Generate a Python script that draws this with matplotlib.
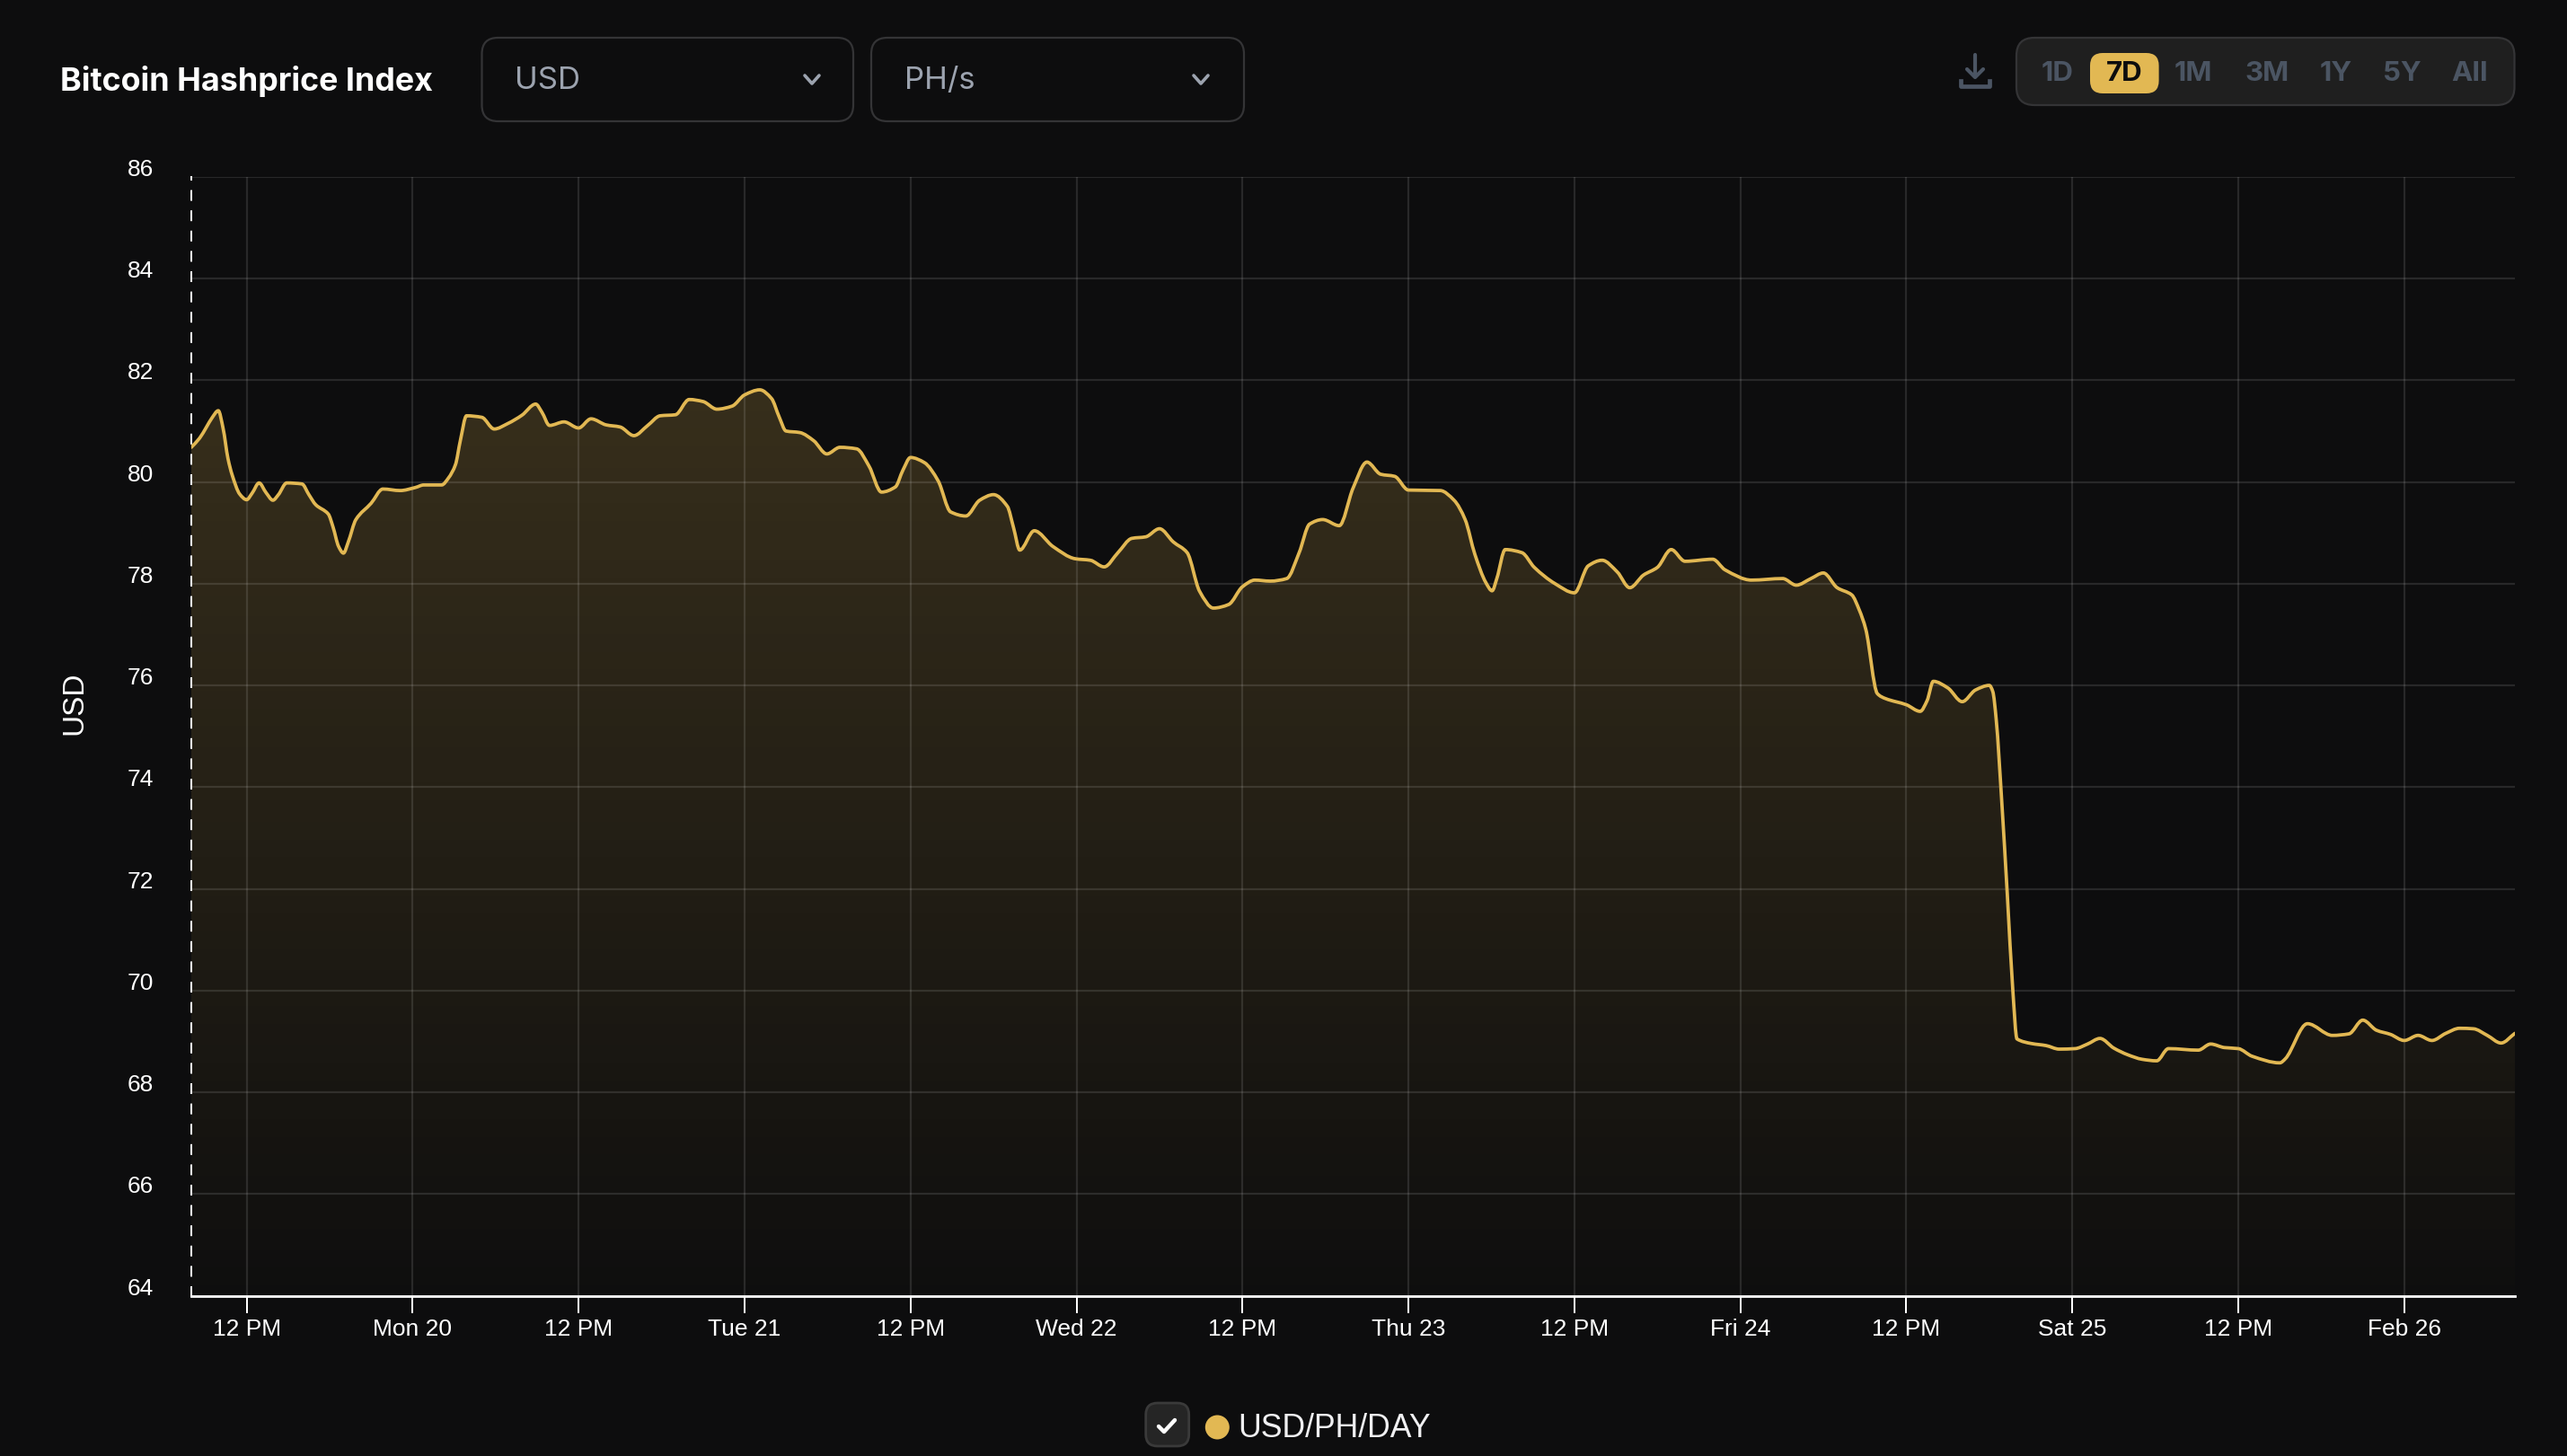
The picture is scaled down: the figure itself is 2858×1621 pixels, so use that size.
import numpy as np
import matplotlib
matplotlib.use('Agg')
import matplotlib.pyplot as plt
from matplotlib.patches import FancyBboxPatch, Circle, PathPatch
from matplotlib.path import Path
from matplotlib.transforms import ScaledTranslation

# hours since Feb 19 08:00
hours = [0, 0.6, 1.1, 1.5, 1.95, 2.3, 2.65, 2.95, 3.5, 4, 4.4, 4.9, 5.4, 5.9, 6.3, 6.9, 8, 8.5, 9, 9.9, 10.25,
         10.65, 11, 11.35, 11.9, 13, 13.85, 15.1, 16.2, 16.8, 18.1, 18.6, 19.1, 19.45, 19.9, 21, 21.9, 22.9, 23.9,
         24.9, 25.35, 25.9, 26.95, 28, 28.9, 30, 31, 32, 33, 33.9, 35, 36, 37, 38, 39.1, 40, 41.1, 41.95, 42.5,
         43, 44, 45, 45.95, 46.9, 48.1, 49, 49.9, 50.9, 51.45, 52, 53, 54, 54.9, 56, 57, 58, 59, 59.45, 59.9,
         60.95, 62.3, 63.9, 65, 66, 67, 68, 69, 70, 71, 72, 72.9, 73.9, 75, 76, 76.9, 78, 79.2, 80.1, 80.85,
         81.8, 83, 84, 85, 86, 87, 88, 90.3, 91.3, 92.1, 92.8, 93.6, 94.05, 94.4, 95, 96.2, 97.1, 98.6, 100,
         101, 102, 103.1, 104, 105, 106, 107, 108, 110, 110.9, 112.8, 115.06, 116.04, 117.1, 118, 119, 120.05,
         120.6, 121.07, 121.9, 122.5, 124, 125, 125.5, 125.95, 127, 128.04, 129, 130, 130.25, 130.5, 130.9,
         131.3, 131.7, 132, 133.05, 134.1, 135.05, 136.2, 137.1, 138, 139, 140, 141.05, 142.1, 142.95, 145.1,
         146, 147, 148, 149, 151, 151.4, 153, 154.8, 156, 157, 158, 159, 160, 161, 162, 163, 164, 165, 166,
         167, 168]
usd_ph_day = [80.68, 80.86, 81.08, 81.26, 81.40, 81.05, 80.46, 80.14, 79.76, 79.65, 79.78, 79.98, 79.79, 79.64,
              79.75, 79.98, 79.96, 79.75, 79.55, 79.37, 79.11, 78.73, 78.60, 78.82, 79.26, 79.58, 79.86, 79.83,
              79.89, 79.94, 79.94, 80.08, 80.34, 80.81, 81.30, 81.27, 81.04, 81.15, 81.31, 81.53, 81.37, 81.11,
              81.18, 81.06, 81.24, 81.12, 81.08, 80.91, 81.11, 81.30, 81.32, 81.62, 81.58, 81.43, 81.49, 81.71,
              81.81, 81.64, 81.28, 81.00, 80.97, 80.81, 80.55, 80.68, 80.65, 80.31, 79.80, 79.90, 80.23, 80.48,
              80.38, 80.02, 79.41, 79.33, 79.64, 79.75, 79.52, 79.10, 78.66, 79.04, 78.73, 78.49, 78.46, 78.33,
              78.61, 78.89, 78.92, 79.08, 78.82, 78.61, 77.85, 77.52, 77.59, 77.94, 78.07, 78.05, 78.10, 78.61,
              79.17, 79.26, 79.14, 79.88, 80.39, 80.15, 80.11, 79.84, 79.83, 79.64, 79.26, 78.58, 78.02, 77.86,
              78.11, 78.67, 78.61, 78.32, 78.00, 77.82, 78.35, 78.46, 78.23, 77.92, 78.17, 78.32, 78.67, 78.44,
              78.48, 78.27, 78.07, 78.10, 77.97, 78.10, 78.21, 77.92, 77.78, 77.48, 77.10, 75.84, 75.74, 75.62,
              75.49, 75.70, 76.08, 75.95, 75.68, 75.91, 76.00, 75.88, 75.32, 73.71, 71.89, 70.00, 69.05, 68.96,
              68.92, 68.85, 68.86, 68.95, 69.06, 68.87, 68.74, 68.65, 68.62, 68.86, 68.83, 68.95, 68.88, 68.86,
              68.71, 68.58, 68.66, 69.35, 69.12, 69.15, 69.42, 69.22, 69.14, 69.02, 69.12, 69.02, 69.16, 69.26,
              69.25, 69.12, 68.97, 69.16]

y_ticks = [64, 66, 68, 70, 72, 74, 76, 78, 80, 82, 84, 86]
x_ticks = [4, 16, 28, 40, 52, 64, 76, 88, 100, 112, 124, 136, 148, 160]
x_labels = ['12 PM', 'Mon 20', '12 PM', 'Tue 21', '12 PM', 'Wed 22', '12 PM', 'Thu 23',
            '12 PM', 'Fri 24', '12 PM', 'Sat 25', '12 PM', 'Feb 26']
range_buttons = ['1D', '7D', '1M', '3M', '1Y', '5Y', 'All']
range_centers = [2291, 2365.4, 2442, 2524.4, 2601, 2674, 2750]

BG = '#0d0d0e'
GOLD = '#e2b853'
GREY = '#4b5563'
W, H = 2858, 1621


def smooth_path(xs, ys):
    # the chart draws a rounded line, so join the read points with monotone bezier pieces
    xs = np.asarray(xs, float)
    ys = np.asarray(ys, float)
    dx = np.diff(xs)
    slope = np.diff(ys) / dx
    tan = np.zeros(len(xs))
    tan[0], tan[-1] = slope[0], slope[-1]
    for i in range(1, len(xs) - 1):
        if slope[i - 1] * slope[i] > 0:
            tan[i] = 2 * slope[i - 1] * slope[i] / (slope[i - 1] + slope[i])
    verts = [(xs[0], ys[0])]
    codes = [Path.MOVETO]
    for i in range(len(dx)):
        verts.append((xs[i] + dx[i] / 3, ys[i] + tan[i] * dx[i] / 3))
        verts.append((xs[i + 1] - dx[i] / 3, ys[i + 1] - tan[i + 1] * dx[i] / 3))
        verts.append((xs[i + 1], ys[i + 1]))
        codes += [Path.CURVE4] * 3
    return verts, codes


plt.rcParams['font.family'] = ['Liberation Sans', 'DejaVu Sans']
fig = plt.figure(figsize=(W / 100, H / 100), dpi=100, facecolor=BG)
ax = fig.add_axes([213 / W, (H - 1442.7) / H, (2800 - 213) / W, (1442.7 - 196.7) / H], facecolor=BG)

verts, codes = smooth_path(hours, usd_ph_day)

# gradient area under the line
rgba = np.zeros((256, 1, 4))
rgba[..., :3] = matplotlib.colors.to_rgb(GOLD)
rgba[:, 0, 3] = np.linspace(0.2, 0.01, 256)
im = ax.imshow(rgba, extent=[0, 168, 64, 81.8], origin='upper', aspect='auto', zorder=1)
area = Path(verts + [(168, 64), (0, 64), (0, usd_ph_day[0])], codes + [Path.LINETO, Path.LINETO, Path.CLOSEPOLY])
im.set_clip_path(area, transform=ax.transData)

ax.add_patch(PathPatch(Path(verts, codes), fc='none', ec=GOLD, lw=2.7, joinstyle='round', capstyle='round', zorder=3))

ax.set_xlim(0, 168)
ax.set_ylim(64, 86)
ax.set_xticks(x_ticks)
ax.set_xticklabels(x_labels, fontsize=19, color='white')
ax.set_yticks(y_ticks)
ax.set_yticklabels([str(t) for t in y_ticks], fontsize=19, color='white', va='center')
ax.tick_params(axis='x', length=13.5, width=1.44, color='white', pad=5)
ax.tick_params(axis='y', length=0, pad=30)
ax.grid(True, color='white', alpha=0.115, lw=1.6)

# y labels sit a bit above their grid lines
for lab in ax.get_yticklabels():
    lab.set_transform(lab.get_transform() + ScaledTranslation(0, 0.08, fig.dpi_scale_trans))

ax.set_ylabel('USD', fontsize=24, color='white')
ax.yaxis.set_label_coords((98 - 213) / (2800 - 213), 0.53)

ax.spines['top'].set_visible(False)
ax.spines['right'].set_visible(False)
ax.spines['bottom'].set_color('white')
ax.spines['bottom'].set_linewidth(2.0)
ax.spines['left'].set_color('white')
ax.spines['left'].set_linewidth(1.44)
ax.spines['left'].set_linestyle((0, (5, 6.3)))

# page controls, in pixel coordinates of the page
ui = fig.add_axes([0, 0, 1, 1], facecolor='none', zorder=5)
ui.set_xlim(0, W)
ui.set_ylim(H, 0)
ui.axis('off')


def box(x0, y0, x1, y1, r, fc, ec, lw=2.0):
    ui.add_patch(FancyBboxPatch((x0 + r, y0 + r), x1 - x0 - 2 * r, y1 - y0 - 2 * r,
                                boxstyle=f'round,pad={r},rounding_size={r}', fc=fc, ec=ec, lw=lw))


def chevron(cx, cy):
    ui.plot([cx - 8, cx, cx + 8], [cy - 4, cy + 5, cy - 4], color='#9ca3af', lw=2.6,
            solid_capstyle='round', solid_joinstyle='round')


ui.text(67, 90, 'Bitcoin Hashprice Index', family='Inter', fontweight='bold', fontsize=25.8,
        color='white', va='center', ha='left')

box(536.5, 42, 950, 135, 18, 'none', '#343436', lw=1.6)
box(970, 42, 1385, 135, 18, 'none', '#343436', lw=1.6)
ui.text(573, 90, 'USD', fontsize=25, color='#9ca3af', va='center', ha='left', family='Inter')
ui.text(1007, 90, 'PH/s', fontsize=25, color='#9ca3af', va='center', ha='left', family='Inter')
chevron(904, 88)
chevron(1337, 88)

# download icon
ui.plot([2199, 2199], [61, 85], color=GREY, lw=3, solid_capstyle='round')
ui.plot([2190, 2199, 2208], [77, 86, 77], color=GREY, lw=3, solid_capstyle='round', solid_joinstyle='round')
ui.plot([2183, 2183, 2215, 2215], [90, 96, 96, 90], color=GREY, lw=3.4, solid_joinstyle='round')

# range selector
box(2245, 42, 2799.5, 117, 20, '#1f1f1f', '#343436', lw=1.6)
box(2327, 59, 2403.6, 104, 14, GOLD, 'none', lw=0)
for label, cx in zip(range_buttons, range_centers):
    ui.text(cx, 82, label, family='Inter', fontweight='bold', fontsize=22.5,
            color='#0d0d0e' if label == '7D' else GREY, ha='center', va='center')

# legend
box(1275.7, 1562, 1323.7, 1610, 13, '#252525', '#3a3a3a')
ui.plot([1290, 1296, 1308], [1588, 1594, 1581], color='white', lw=3.2,
        solid_capstyle='round', solid_joinstyle='round')
ui.add_patch(Circle((1355.3, 1589), 13.5, fc=GOLD, ec='none'))
ui.text(1378, 1590, 'USD/PH/DAY', fontsize=25.7, color='#f0f0f2', va='center', ha='left')

fig.savefig('out.png', dpi=100, facecolor=BG)
